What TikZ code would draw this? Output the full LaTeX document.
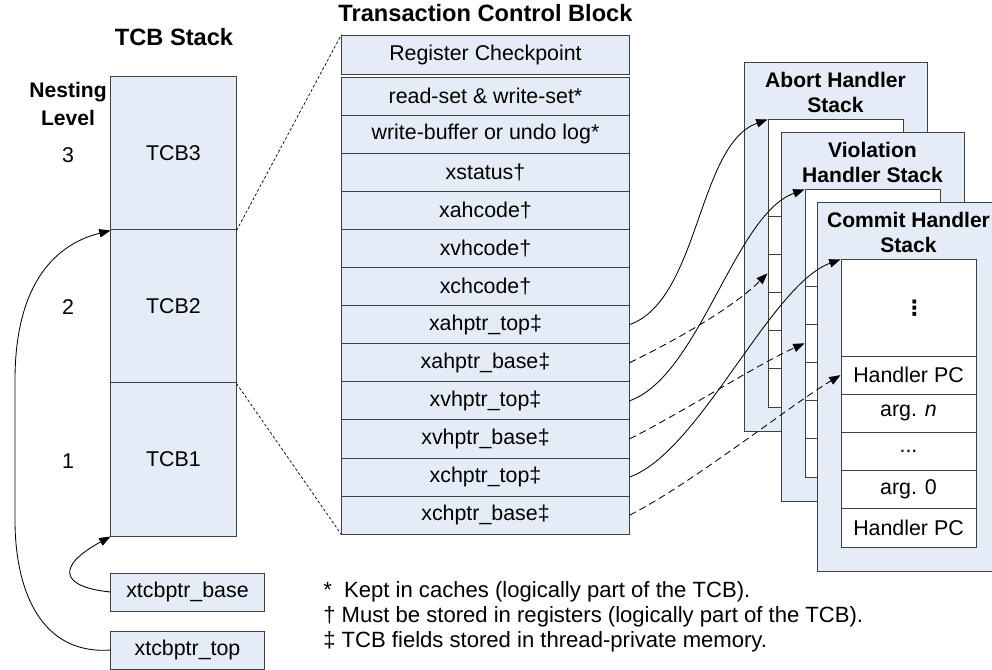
\documentclass[tikz,border=0pt]{standalone}
\usepackage{fontspec}
\setmainfont{Liberation Sans}
\newfontfamily\dotsfont{DejaVu Sans}
\usepackage{tikz}
\usetikzlibrary{arrows.meta, calc}
\definecolor{tcbfill}{RGB}{228,236,247}

\begin{document}
\begin{tikzpicture}[x=0.025cm, y=-0.025cm, >={Triangle[length=8pt, width=6pt]},
    txt/.style={font=\fontsize{15.2}{18}\selectfont},
    ttl/.style={font=\bfseries\fontsize{16.8}{20}\selectfont},
    subttl/.style={font=\bfseries\fontsize{15}{17.8}\selectfont, align=center},
    cell/.style={draw=black!75, line width=0.7pt, fill=tcbfill, txt, inner sep=0pt},
    field/.style={cell, minimum width=7.175cm, minimum height=0.9525cm},
    tcbbox/.style={cell, minimum width=3.125cm, minimum height=3.825cm},
    ptrbox/.style={cell, minimum width=3.825cm, minimum height=0.95cm},
    slot/.style={cell, fill=white, minimum width=3.375cm, minimum height=0.955cm},
    ptr/.style={->, line width=0.6pt},
    dptr/.style={->, line width=0.6pt, dash pattern=on 5pt off 3pt},
    zoomline/.style={line width=0.5pt, dash pattern=on 2pt off 1.5pt}]
    \useasboundingbox (0,0) rectangle (992,670);

    % Pile des TCB
    \node[ttl] at (174,37) {TCB Stack};
    \node[subttl, font=\bfseries\fontsize{15}{20}\selectfont] at (68,104) {Nesting\\Level};
    \node[tcbbox] (tcb3) at (173.5,153.5) {TCB3};
    \node[tcbbox] (tcb2) at (173.5,306.5) {TCB2};
    \node[tcbbox] (tcb1) at (173.5,459.5) {TCB1};
    \node[txt] at (68,155) {3};
    \node[txt] at (68,307) {2};
    \node[txt] at (68,461) {1};
    \node[ptrbox] (xbase) at (187.5,592) {xtcbptr\_base};
    \node[ptrbox] (xtop) at (187.5,650) {xtcbptr\_top};

    % Transaction Control Block
    \node[ttl] at (485.5,13) {Transaction Control Block};
    \node[field, minimum height=0.975cm] (regchk) at (485.5,54.5) {Register Checkpoint};
    \node[field] (rwset) at (485.5,96.05) {read-set \& write-set*};
    \node[field] (wbuf) at (485.5,134.15) {write-buffer or undo log*};
    \node[field] (xstatus) at (485.5,172.25) {xstatus†};
    \node[field] (xahcode) at (485.5,210.35) {xahcode†};
    \node[field] (xvhcode) at (485.5,248.45) {xvhcode†};
    \node[field] (xchcode) at (485.5,286.55) {xchcode†};
    \node[field] (xahtop) at (485.5,324.65) {xahptr\_top‡};
    \node[field] (xahbase) at (485.5,362.75) {xahptr\_base‡};
    \node[field] (xvhtop) at (485.5,400.85) {xvhptr\_top‡};
    \node[field] (xvhbase) at (485.5,438.95) {xvhptr\_base‡};
    \node[field] (xchtop) at (485.5,477.05) {xchptr\_top‡};
    \node[field] (xchbase) at (485.5,515.15) {xchptr\_base‡};

    % Piles des handlers
    \foreach \nm/\ox/\oy/\ttl in {abort/744/62/{Abort Handler\\Stack},
        viol/781/132/{Violation\\Handler Stack}, commit/817/202/{Commit Handler\\Stack}} {
        \draw[draw=black!75, line width=0.7pt, fill=tcbfill] (\ox,\oy) rectangle ++(183,369);
        \node[subttl] at (\ox+91.5,\oy+30) {\ttl};
        \node[slot, minimum height=2.4cm] (\nm0) at (\ox+91.5,\oy+106) {};
        \foreach \r in {1,...,5}
            \node[slot] (\nm\r) at (\ox+91.5,\oy+134.9+38.2*\r) {};
    }
    \node[font=\dotsfont\bfseries\fontsize{15}{18}\selectfont] at ([xshift=0.15cm]commit0) {⋮};
    \node[txt] at (commit1) {Handler PC};
    \node[txt] at (commit2) {arg. \textit{n}};
    \node[txt] at (commit3) {...};
    \node[txt] at (commit4) {arg. 0};
    \node[txt] at (commit5) {Handler PC};

    % Notes
    \node[font=\fontsize{15.7}{17.6}\selectfont, align=left, anchor=west, inner sep=0pt] (notes) at (323,617)
        {*\ \ Kept in caches (logically part of the TCB).\\
         † Must be stored in registers (logically part of the TCB).\\
         ‡ TCB fields stored in thread-private memory.};

    % Zoom sur TCB2
    \draw[zoomline] (tcb3.south east) -- (regchk.north west);
    \draw[zoomline] (tcb2.south east) -- (xchbase.south west);

    % Pointeurs
    \draw[ptr] (xbase.west) .. controls +(-50,-5) and +(-55,30) .. (tcb1.south west);
    \draw[ptr] (xtop.west) .. controls +(-70,5) and +(0,70) .. (15,520) -- (15,380)
        .. controls +(0,-90) and +(-60,15) .. (tcb3.south west);
    \draw[ptr] (xahtop.east) .. controls +(70,-25) and +(-70,25) .. (abort0.north west);
    \draw[ptr] (xvhtop.east) .. controls +(70,-25) and +(-70,25) .. (viol0.north west);
    \draw[ptr] (xchtop.east) .. controls +(70,-25) and +(-70,25) .. (commit0.north west);
    \draw[dptr] (xahbase.east) .. controls +(45,-22) and +(-35,35) .. (abort2.west);
    \draw[dptr] (xvhbase.east) .. controls +(50,-25) and +(-45,20) .. (viol2.west);
    \draw[dptr] (xchbase.east) .. controls +(60,-30) and +(-50,30) .. (commit1.west);
\end{tikzpicture}
\end{document}
